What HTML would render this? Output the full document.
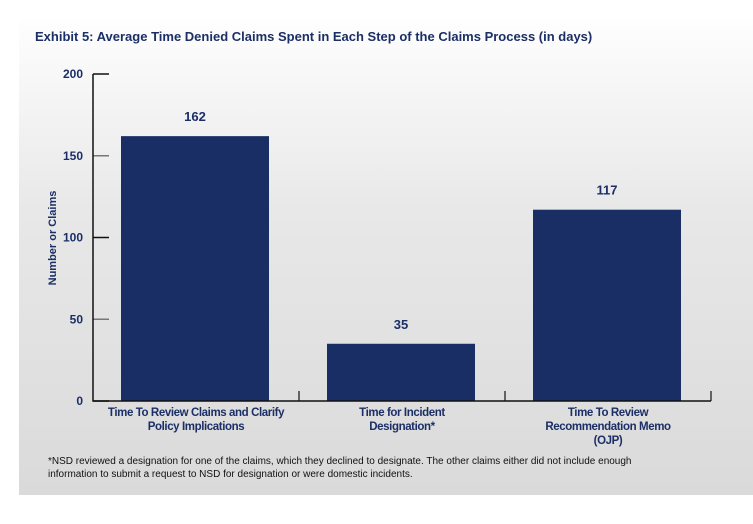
<!DOCTYPE html>
<html><head><meta charset="utf-8"><style>
body{margin:0;width:753px;height:524px;background:#fff;overflow:hidden;font-family:"Liberation Sans",sans-serif}
#panel{position:absolute;left:19px;top:19px;width:734px;height:476px;background:linear-gradient(#fefefe,#e8e8e8 40%,#dadada)}
</style></head><body>
<div id="panel"></div>
<svg width="753" height="524" style="position:absolute;left:0;top:0">
<text x="35" y="41" font-size="13" font-weight="bold" fill="#1b2f66">Exhibit 5: Average Time Denied Claims Spent in Each Step of the Claims Process (in days)</text>
<text transform="translate(56,238) rotate(-90)" text-anchor="middle" font-size="11" font-weight="bold" fill="#1b2f66">Number or Claims</text>
<g id="g"></g>
<text x="48" y="464" font-size="10" fill="#111"><tspan x="48">*NSD reviewed a designation for one of the claims, which they declined to designate. The other claims either did not include enough</tspan><tspan x="48" dy="13">information to submit a request to NSD for designation or were domestic incidents.</tspan></text>
</svg>
<script>
const categories=[["Time To Review Claims and Clarify","Policy Implications"],["Time for Incident","Designation*"],["Time To Review","Recommendation Memo","(OJP)"]];
const values=[162,35,117];
const yTicks=[0,50,100,150,200];
const x0=93,x1=711,yb=401,yt=74,ymax=200;
const y=v=>yb-(yb-yt)*v/ymax;
const cw=(x1-x0)/categories.length;
const g=document.getElementById('g');
const NS='http://www.w3.org/2000/svg';
function mk(t,a){const e=document.createElementNS(NS,t);for(const k in a)e.setAttribute(k,a[k]);g.appendChild(e);return e;}
yTicks.forEach(v=>{
 const l=mk('line',{x1:x0,x2:x0+16,y1:y(v),y2:y(v),stroke:v==50||v==150?'#777':'#111','stroke-width':1.5});
 
 
 const t=mk('text',{x:x0-10,y:y(v)+4,'text-anchor':'end','font-size':12,'font-weight':'bold',fill:'#1b2f66'});
 t.textContent=v;
 
 
});
values.forEach((v,i)=>{
 const bx=x0+i*cw+28,bw=cw-58;
 const r=mk('rect',{x:bx,y:y(v),width:bw,height:yb-y(v),fill:'#1a2e66'});
 
 
 const t=mk('text',{x:bx+bw/2,y:y(v)-15,'text-anchor':'middle','font-size':13,'font-weight':'bold',fill:'#1b2f66'});
 t.textContent=v;
 
 
 const tk=mk('line',{x1:x0+(i+1)*cw,x2:x0+(i+1)*cw,y1:yb,y2:yb-10,stroke:'#111','stroke-width':1.2});
 
 
 const ct=mk('text',{'text-anchor':'middle','font-size':11.5,'font-weight':'bold',fill:'#1b2f66','letter-spacing':'-0.4'});
 
 
 categories[i].forEach((s,j)=>{const sp=document.createElementNS(NS,'tspan');sp.setAttribute('x',x0+i*cw+cw/2);sp.setAttribute('y',416+j*14);sp.textContent=s;ct.appendChild(sp);});
});
const ax=mk('path',{d:`M${x0} ${yt}V${yb}H${x1}`,fill:'none',stroke:'#111','stroke-width':1.5});


</script>
</body></html>
